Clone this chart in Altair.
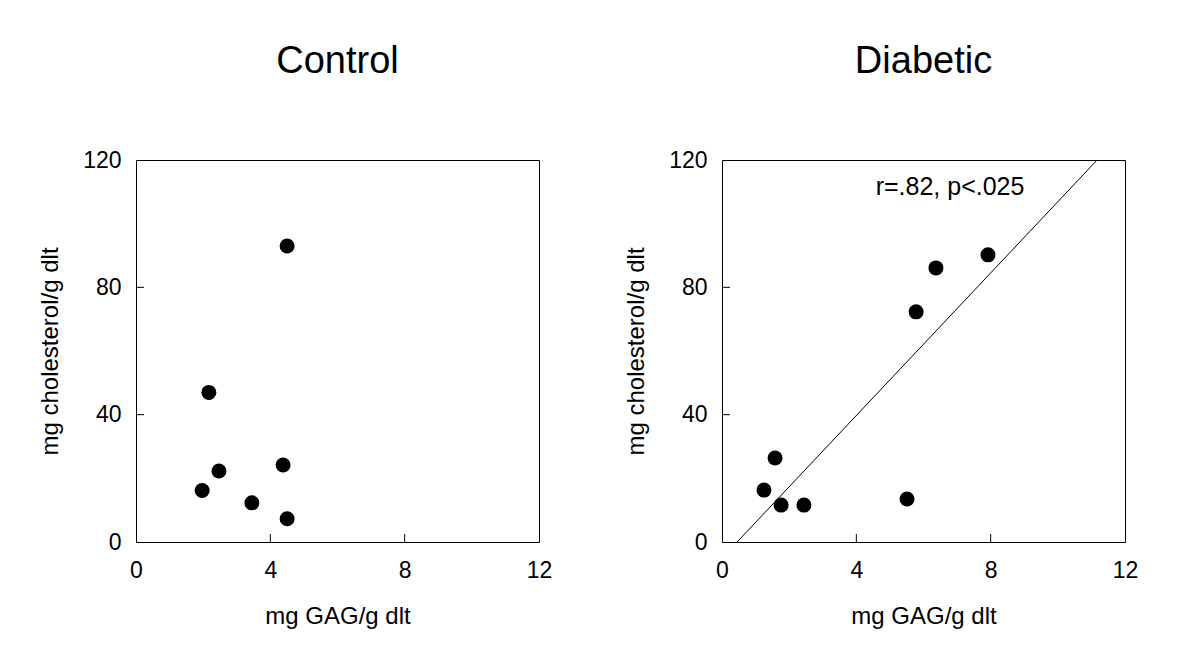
import altair as alt
import pandas as pd

# Control group
control_gag = [4.50, 2.17, 2.47, 1.97, 3.45, 4.38, 4.50]
control_chol = [93.0, 47.0, 22.3, 16.2, 12.3, 24.2, 7.3]

# Diabetic group
diabetic_gag = [7.92, 6.37, 5.78, 1.58, 1.25, 1.76, 2.44, 5.51]
diabetic_chol = [90.2, 86.1, 72.3, 26.4, 16.3, 11.6, 11.6, 13.5]

# Regression line endpoints
fit_gag = [0.45, 11.17]
fit_chol = [0, 120]

x_ticks = [0, 4, 8, 12]
y_ticks = [0, 40, 80, 120]
inner_x_ticks = [4, 8]
inner_y_ticks = [40, 80]

annotation_text = "r=.82, p<.025"
annotation_pos = (6.79, 111.5)

W, H = 403, 382
FONT = "Liberation Sans"

xscale = alt.Scale(domain=[0, 12], nice=False, zero=False)
yscale = alt.Scale(domain=[0, 120], nice=False, zero=False)

xaxis = alt.Axis(values=x_ticks, title="mg GAG/g dlt", grid=False, ticks=False, tickSize=0,
                 domain=False, labelFontSize=23, titleFontSize=24, labelPadding=17,
                 titlePadding=22, labelColor="black", titleColor="black", labelFlush=False,
                 titleFontWeight="normal", labelFont=FONT, titleFont=FONT)
yaxis = alt.Axis(values=y_ticks, title="mg cholesterol/g dlt", grid=False, ticks=False, tickSize=0,
                 domain=False, labelFontSize=23, titleFontSize=24, labelPadding=15,
                 titlePadding=20, labelColor="black", titleColor="black", labelFlush=False,
                 titleFontWeight="normal", labelFont=FONT, titleFont=FONT)


def panel(title, gx, gy, extra=None):
    df = pd.DataFrame({"gag": gx, "chol": gy})
    pts = alt.Chart(df).mark_circle(size=225, color="black", opacity=1).encode(
        x=alt.X("gag:Q", scale=xscale, axis=xaxis),
        y=alt.Y("chol:Q", scale=yscale, axis=yaxis),
    )
    xt = alt.Chart(pd.DataFrame({"v": inner_x_ticks})).mark_rule(color="black", strokeWidth=1).encode(
        x=alt.X("v:Q", scale=xscale, axis=xaxis), y=alt.value(H), y2=alt.value(H - 8))
    yt = alt.Chart(pd.DataFrame({"v": inner_y_ticks})).mark_rule(color="black", strokeWidth=1).encode(
        y=alt.Y("v:Q", scale=yscale, axis=yaxis), x=alt.value(0), x2=alt.value(8))
    layers = [xt, yt, pts]
    if extra:
        layers += extra
    return alt.layer(*layers).properties(
        width=W, height=H,
        title=alt.TitleParams(title, fontSize=38, font=FONT, fontWeight="normal",
                              color="black", offset=68, anchor="middle"),
    )


fit_df = pd.DataFrame({"gag": fit_gag, "chol": fit_chol})
fit = alt.Chart(fit_df).mark_line(color="black", strokeWidth=1, clip=True).encode(
    x=alt.X("gag:Q", scale=xscale, axis=xaxis),
    y=alt.Y("chol:Q", scale=yscale, axis=yaxis),
)
ann = alt.Chart(pd.DataFrame({"gag": [annotation_pos[0]], "chol": [annotation_pos[1]],
                              "t": [annotation_text]})).mark_text(
    fontSize=25, font=FONT, color="black", baseline="middle", align="center").encode(
    x=alt.X("gag:Q", scale=xscale, axis=xaxis),
    y=alt.Y("chol:Q", scale=yscale, axis=yaxis),
    text="t:N",
)

left = panel("Control", control_gag, control_chol)
right = panel("Diabetic", diabetic_gag, diabetic_chol, [fit, ann])

chart = alt.hconcat(left, right, spacing=71).configure(
    background="white", padding={"left": 30, "top": 34, "right": 5, "bottom": 5}
).configure_view(stroke="black", strokeWidth=1)

chart.save("out.html", embed_options={"renderer": "svg", "actions": False})
